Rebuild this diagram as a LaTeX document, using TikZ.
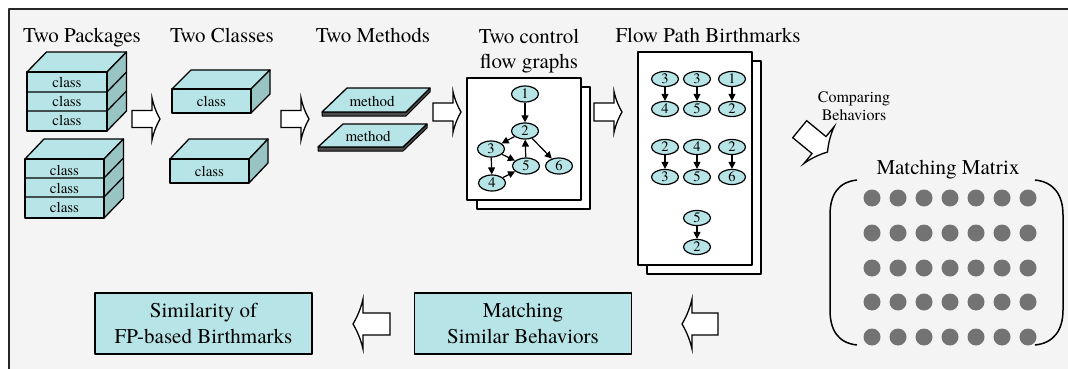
\documentclass[tikz,border=0pt]{standalone}
\usepackage{fontspec}
\IfFontExistsTF{texgyretermes-regular.otf}{%
  \setmainfont{texgyretermes}[Extension=.otf, UprightFont=*-regular, BoldFont=*-bold, ItalicFont=*-italic, BoldItalicFont=*-bolditalic]}{%
  \setmainfont{Liberation Serif}}
\usetikzlibrary{arrows.meta,shapes.geometric}
\definecolor{bgc}{HTML}{F4F4F4}
\definecolor{cyanf}{HTML}{B7E5E7}
\definecolor{cyans}{HTML}{98C4C4}
\definecolor{dotc}{HTML}{737373}
% x y angle shaftlen headlen shaft-halfwidth head-halfwidth
\newcommand{\blockarr}[7]{%
  \begin{scope}[shift={(#1,#2)},rotate=#3]
    \filldraw[barrow] (0,-#6) -- (#4,-#6) -- (#4,-#7)
      .. controls ({#4+0.25*#5},{-0.55*#7}) and ({#4+0.7*#5},{-0.2*#7}) .. ({#4+#5},0)
      .. controls ({#4+0.7*#5},{0.2*#7}) and ({#4+0.25*#5},{0.55*#7}) .. (#4,#7)
      -- (#4,#6) -- (0,#6) -- cycle;
  \end{scope}}
\tikzset{
  head/.style={font=\fontsize{21}{25}\selectfont, inner sep=0pt},
  face/.style={fill=cyanf, draw=black, line width=1.3pt},
  sideface/.style={fill=cyans, draw=black, line width=1.3pt},
  lbl/.style={font=\fontsize{15}{18}\selectfont, inner sep=0pt, anchor=base},
  gnode/.style={ellipse, draw=black, fill=cyanf, line width=1.2pt, minimum width=27pt,
    minimum height=16pt, inner sep=0pt, font=\fontsize{14.5}{14.5}\selectfont},
  pnode/.style={gnode, minimum height=15pt},
  gedge/.style={-{Triangle[length=7pt,width=7pt]}, line width=1.2pt},
  page/.style={draw=black, fill=white, line width=1.4pt},
  resbox/.style={draw=black, fill=cyanf, line width=1.4pt, minimum width=217pt,
    minimum height=61pt, align=center, inner sep=0pt, font=\fontsize{21}{26}\selectfont},
  barrow/.style={draw=black, fill=white, line width=1.3pt, line join=miter},
  mdot/.style={circle, fill=dotc, minimum size=17pt, inner sep=0pt},
  brk/.style={draw=black, line width=1.5pt},
}
\begin{document}
\begin{tikzpicture}[x=1pt,y=-1pt,line join=round]
\useasboundingbox (0,0) rectangle (1068,369);
\fill[bgc] (9,9) rectangle (1068,369);
\draw[line width=2pt, draw=black!85] (9,369) -- (9,9) -- (1068,9);

% headings
\node[head, anchor=base] (hpk) at (82,43) {Two Packages};
\node[head, anchor=base] (hcl) at (222,43) {Two Classes};
\node[head, anchor=base] (hme) at (373,43) {Two Methods};
\node[head, align=center] (hcf) at (529,50.7) {Two control\\flow graphs};
\node[head, anchor=base] (hfp) at (708,43) {Flow Path Birthmarks};
\node[head, anchor=base] (hmm) at (948,174) {Matching Matrix};
\node[font=\fontsize{16}{18}\selectfont, align=center, inner sep=0pt] (hcb) at (854,106.3) {Comparing\\Behaviors};

% package 1
\filldraw[face] (27,72) -- (46.5,52) -- (126.5,52) -- (107,72) -- cycle;
\filldraw[sideface] (107,72) -- (126.5,52) -- (126.5,111) -- (107,131) -- cycle;
\filldraw[face] (27,72) rectangle (107,131);
\draw[line width=1.3pt] (27,92) -- (107,92) -- (126.5,72);
\draw[line width=1.3pt] (27,111) -- (107,111) -- (126.5,91);
\node[lbl] (p1a) at (67,88) {class};
\node[lbl] (p1b) at (67,106.5) {class};
\node[lbl] (p1c) at (67,125) {class};

% package 2
\filldraw[face] (25,159) -- (44,139) -- (123.5,139) -- (104,159) -- cycle;
\filldraw[sideface] (104,159) -- (123.5,139) -- (123.5,198) -- (104,218) -- cycle;
\filldraw[face] (25,159) rectangle (104,218);
\draw[line width=1.3pt] (25,178) -- (104,178) -- (123.5,158);
\draw[line width=1.3pt] (25,197) -- (104,197) -- (123.5,177);
\node[lbl] (p2a) at (64.5,175) {class};
\node[lbl] (p2b) at (64.5,193.5) {class};
\node[lbl] (p2c) at (64.5,212) {class};

% classes
\filldraw[face] (172,89) -- (191,70) -- (270,70) -- (251,89) -- cycle;
\filldraw[sideface] (251,89) -- (270,70) -- (270,94) -- (251,113) -- cycle;
\filldraw[face] (172,89) rectangle (251,113);
\node[lbl] (c1) at (211.5,106) {class};
\filldraw[face] (170,159) -- (189,139) -- (268,139) -- (249,159) -- cycle;
\filldraw[sideface] (249,159) -- (268,139) -- (268,163) -- (249,183) -- cycle;
\filldraw[face] (170,159) rectangle (249,183);
\node[lbl] (c2) at (209.5,176) {class};

% methods
\filldraw[fill=black!70, draw=black, line width=1pt] (322,112) -- (406,112) -- (430,88) -- (430,92) -- (406,116) -- (322,116) -- cycle;
\filldraw[face] (322,112) -- (406,112) -- (430,88) -- (347,88) -- cycle;
\node[lbl] (m1) at (372,106) {method};
\filldraw[fill=black!70, draw=black, line width=1pt] (318,147) -- (403,147) -- (427,124) -- (427,128) -- (403,151) -- (318,151) -- cycle;
\filldraw[face] (318,147) -- (403,147) -- (427,124) -- (343,124) -- cycle;
\node[lbl] (m2) at (368,141) {method};

% control flow graphs
\filldraw[page] (477,87) rectangle (590,209);
\filldraw[page] (467,78) rectangle (581,200);
\node[gnode] (g1) at (525,94) {1};
\node[gnode] (g2) at (525,131) {2};
\node[gnode] (g3) at (491,149) {3};
\node[gnode] (g4) at (492,183) {4};
\node[gnode] (g5) at (526,166) {5};
\node[gnode] (g6) at (559,166) {6};
\draw[gedge] (g1) -- (g2);
\draw[gedge] (g2) -- (g3);
\draw[gedge] (g2) -- (g6);
\draw[gedge] (g3) -- (g5);
\draw[gedge] (g3) -- (g4);
\draw[gedge] (g4) -- (g5);
\draw[gedge] (g5) -- (g2);

% flow path birthmarks
\filldraw[page] (647,61) rectangle (761,274);
\filldraw[page] (638,52) rectangle (752,265);
\node[pnode] (f1a) at (665,79) {3};  \node[pnode] (f1b) at (665,109) {4};
\node[pnode] (f2a) at (697,79) {3};  \node[pnode] (f2b) at (697,109) {5};
\node[pnode] (f3a) at (732,79) {1};  \node[pnode] (f3b) at (732,109) {2};
\node[pnode] (f4a) at (665,147) {2}; \node[pnode] (f4b) at (665,177) {3};
\node[pnode] (f5a) at (697,147) {4}; \node[pnode] (f5b) at (697,177) {5};
\node[pnode] (f6a) at (732,147) {2}; \node[pnode] (f6b) at (732,177) {6};
\node[pnode] (f7a) at (697,218) {5}; \node[pnode] (f7b) at (697,247) {2};
\foreach \i in {1,...,7}{\draw[gedge] (f\i a) -- (f\i b);}

% matching matrix
\foreach \r [count=\ri] in {198,233,268,302,337}{
  \foreach \c in {0,...,6}{
    \node[mdot] (d\ri-\c) at ({872+26*\c},\r) {};
  }
}
\draw[brk] (857,180) .. controls (838,182) and (830,195) .. (830,215) -- (830,310) .. controls (830,330) and (838,343) .. (857,345);
\draw[brk] (1035,180) .. controls (1054,182) and (1063,195) .. (1063,215) -- (1063,310) .. controls (1063,330) and (1054,343) .. (1035,345);

% result boxes
\node[resbox] (sim) at (203.5,323.5) {Similarity of\\FP-based Birthmarks};
\node[resbox] (msb) at (523,323.5) {Matching\\Similar Behaviors};

% block arrows
\blockarr{132}{119}{0}{20}{8}{8.5}{21}
\blockarr{281}{119}{0}{20}{8}{8.5}{21}
\blockarr{433}{112}{0}{20}{8}{9}{20.5}
\blockarr{594}{112}{0}{20}{8}{9}{20.5}
\blockarr{799.7}{129.2}{-39.4}{25}{11}{11}{24}
\blockarr{718}{324}{180}{26}{10}{11}{25}
\blockarr{390}{324}{180}{27}{10}{11}{25}
\end{tikzpicture}
\end{document}
